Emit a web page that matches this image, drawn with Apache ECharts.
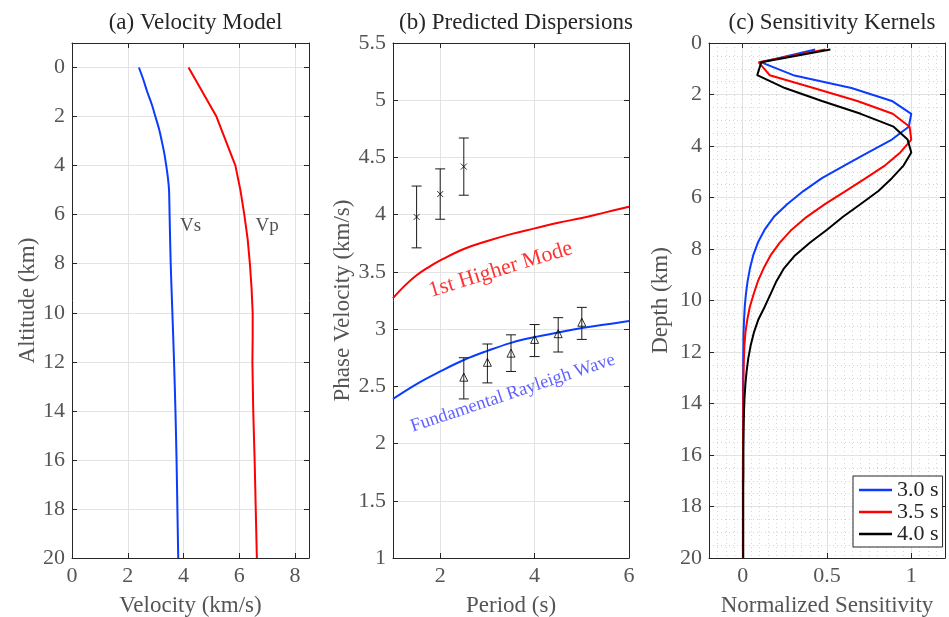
<!DOCTYPE html>
<html><head><meta charset="utf-8">
<script src="https://cdn.jsdelivr.net/npm/echarts@6/dist/echarts.min.js"></script>
<style>html,body{margin:0;padding:0;background:#fff}#c{width:949px;height:617px}</style>
</head><body><div id="c"></div>
<script>
// ---------- Panel (a): velocity model ----------
const vsVel = [2.40, 2.56, 2.70, 2.86, 2.99, 3.12, 3.22, 3.31, 3.38, 3.44, 3.48, 3.50, 3.54, 3.60, 3.66, 3.71, 3.75, 3.78, 3.81];
const vsDep = [0, 0.5, 1, 1.5, 2, 2.5, 3, 3.5, 4, 4.5, 5, 6, 8, 10, 12, 14, 16, 18, 20];
const vpVel = [4.18, 5.18, 5.86, 6.04, 6.18, 6.30, 6.38, 6.44, 6.48, 6.48, 6.47, 6.50, 6.55, 6.59, 6.63];
const vpDep = [0, 2, 4, 5, 6, 7, 8, 9, 10, 11, 12, 14, 16, 18, 20];
const aTicksX = [0, 2, 4, 6, 8];
const aTicksY = [0, 2, 4, 6, 8, 10, 12, 14, 16, 18, 20];

// ---------- Panel (b): predicted dispersions ----------
const hmPeriod = [1, 1.25, 1.5, 1.75, 2, 2.5, 3, 3.5, 4, 4.5, 5, 5.5, 6];
const hmVel = [3.27, 3.38, 3.47, 3.54, 3.60, 3.70, 3.77, 3.83, 3.88, 3.93, 3.97, 4.02, 4.07];
const fmPeriod = [1, 1.5, 2, 2.5, 3, 3.5, 4, 4.5, 5, 5.5, 6];
const fmVel = [2.39, 2.52, 2.63, 2.73, 2.81, 2.88, 2.93, 2.97, 3.01, 3.04, 3.07];
const hmObsPeriod = [1.5, 2, 2.5];
const hmObs = [3.98, 4.18, 4.42];
const hmLow = [3.71, 3.96, 4.17];
const hmHigh = [4.25, 4.40, 4.67];
const fmObsPeriod = [2.5, 3, 3.5, 4, 4.5, 5];
const fmObs = [2.58, 2.71, 2.79, 2.91, 2.96, 3.06];
const fmLow = [2.39, 2.53, 2.63, 2.76, 2.80, 2.91];
const fmHigh = [2.75, 2.87, 2.95, 3.04, 3.10, 3.19];
const bTicksX = [2, 4, 6];

// ---------- Panel (c): sensitivity kernels ----------
const kDepth = [0.25, 0.75, 1.25, 1.75, 2.25, 2.75, 3.25, 3.75, 4.25, 4.75, 5.25, 5.75, 6.25, 6.75, 7.25, 7.75, 8.25, 8.75, 9.25, 9.75,
  10.25, 10.75, 11.25, 11.75, 12.25, 12.75, 13.25, 13.75, 14.25, 14.75, 15.25, 15.75, 16.25, 16.75, 17.25, 17.75, 18.25, 18.75, 19.25, 19.75, 20];
const k30 = [0.43, 0.11, 0.30, 0.645, 0.885, 1.0, 0.985, 0.885, 0.745, 0.605, 0.47, 0.36, 0.265, 0.185, 0.13, 0.09, 0.062, 0.043, 0.029, 0.019,
  0.012, 0.008, 0.005, 0.004, 0.003, 0.003, 0.002, 0.002, 0.002, 0.002, 0.002, 0.002, 0.001, 0.001, 0.001, 0.001, 0.001, 0.001, 0.001, 0.001, 0.001];
const k35 = [0.49, 0.095, 0.16, 0.42, 0.68, 0.89, 0.99, 1.0, 0.935, 0.845, 0.73, 0.61, 0.49, 0.38, 0.29, 0.22, 0.165, 0.124, 0.09, 0.065,
  0.042, 0.027, 0.016, 0.010, 0.007, 0.005, 0.004, 0.003, 0.003, 0.003, 0.002, 0.002, 0.002, 0.002, 0.002, 0.002, 0.002, 0.002, 0.002, 0.002, 0.002];
const k40 = [0.52, 0.11, 0.086, 0.25, 0.47, 0.70, 0.895, 0.978, 1.0, 0.955, 0.885, 0.805, 0.70, 0.595, 0.50, 0.40, 0.31, 0.245, 0.20, 0.165,
  0.13, 0.092, 0.066, 0.047, 0.033, 0.023, 0.016, 0.011, 0.008, 0.006, 0.005, 0.004, 0.004, 0.004, 0.003, 0.003, 0.003, 0.003, 0.003, 0.003, 0.003];
const kNames = ['3.0 s', '3.5 s', '4.0 s'];
const cTicksX = [0, 0.5, 1];

// ---------- styling ----------
const FONT = 'Liberation Serif';
const AX = '#262626', LBL = '#555555', GRID = '#e3e3e3', MINOR = '#d6d6d6';
const BLUE = '#0a3cff', RED = '#ff0000', TXTBLUE = '#3a3aff';
const TICKFS = 22, NAMEFS = 23;
const zip = (a, b) => a.map((v, i) => [v, b[i]]);

function axis(o) {
  const base = {
    type: 'value', gridIndex: o.g, position: o.pos, min: o.min, max: o.max, inverse: !!o.inverse,
    axisLine: { show: true, onZero: false, lineStyle: { color: AX, width: 1 } },
    axisTick: { show: true, inside: true, length: 5, lineStyle: { color: AX, width: 1 } },
    axisLabel: { show: !o.noLabel, color: LBL, fontFamily: FONT, fontSize: TICKFS, margin: o.margin || 7 },
    splitLine: { show: !!o.split, lineStyle: { color: GRID, width: 1 } }
  };
  if (o.interval !== undefined) base.interval = o.interval;
  if (o.custom) { base.axisTick.customValues = o.custom; base.axisLabel.customValues = o.custom; }
  if (o.name) {
    base.name = o.name; base.nameLocation = 'middle'; base.nameGap = o.nameGap;
    base.nameTextStyle = { color: LBL, fontFamily: FONT, fontSize: NAMEFS };
  }
  if (o.minor) {
    base.minorTick = { show: false, splitNumber: o.minor };
    base.minorSplitLine = { show: true, lineStyle: { color: MINOR, width: 1, type: [1, 3] } };
  }
  return base;
}

const xAxis = [
  axis({ g: 0, pos: 'bottom', min: 0, max: 8.5, custom: aTicksX, split: true, name: 'Velocity (km/s)', nameGap: 36 }),
  axis({ g: 0, pos: 'top', min: 0, max: 8.5, custom: aTicksX, noLabel: true }),
  axis({ g: 1, pos: 'bottom', min: 1, max: 6, custom: bTicksX, split: true, name: 'Period (s)', nameGap: 36 }),
  axis({ g: 1, pos: 'top', min: 1, max: 6, custom: bTicksX, noLabel: true }),
  axis({ g: 2, pos: 'bottom', min: -0.2, max: 1.2, custom: cTicksX, split: true, name: 'Normalized Sensitivity', nameGap: 36 }),
  axis({ g: 2, pos: 'top', min: -0.2, max: 1.2, custom: cTicksX, noLabel: true }),
  { type: 'value', gridIndex: 2, position: 'bottom', min: -0.2, max: 1.2, interval: 0.05,
    axisLine: { show: false, onZero: false }, axisTick: { show: false }, axisLabel: { show: false },
    splitLine: { show: true, lineStyle: { color: MINOR, width: 1, type: [1, 3] } }, z: 0 }
];
const yAxis = [
  axis({ g: 0, pos: 'left', min: -1, max: 20, inverse: true, custom: aTicksY, split: true, name: 'Altitude (km)', nameGap: 31 }),
  axis({ g: 0, pos: 'right', min: -1, max: 20, inverse: true, custom: aTicksY, noLabel: true }),
  axis({ g: 1, pos: 'left', min: 1, max: 5.5, interval: 0.5, split: true, name: 'Phase Velocity (km/s)', nameGap: 37 }),
  axis({ g: 1, pos: 'right', min: 1, max: 5.5, interval: 0.5, noLabel: true }),
  axis({ g: 2, pos: 'left', min: 0, max: 20, interval: 2, inverse: true, split: true, minor: 4, name: 'Depth (km)', nameGap: 37 }),
  axis({ g: 2, pos: 'right', min: 0, max: 20, interval: 2, inverse: true, noLabel: true })
];

function errBar(periods, lo, hi) {
  return {
    type: 'custom', xAxisIndex: 2, yAxisIndex: 2, z: 5,
    data: periods.map((p, i) => [p, lo[i], hi[i]]),
    encode: { x: 0, y: [1, 2] },
    renderItem: (params, api) => {
      const x = api.value(0);
      const p1 = api.coord([x, api.value(1)]), p2 = api.coord([x, api.value(2)]);
      const w = 5, st = { stroke: '#1a1a1a', lineWidth: 1 };
      return { type: 'group', children: [
        { type: 'line', shape: { x1: p1[0], y1: p1[1], x2: p2[0], y2: p2[1] }, style: st },
        { type: 'line', shape: { x1: p1[0] - w, y1: p1[1], x2: p1[0] + w, y2: p1[1] }, style: st },
        { type: 'line', shape: { x1: p2[0] - w, y1: p2[1], x2: p2[0] + w, y2: p2[1] }, style: st }
      ] };
    }
  };
}
function textMark(xi, yi, pts) {
  return {
    type: 'scatter', xAxisIndex: xi, yAxisIndex: yi, symbolSize: 0, z: 6, silent: true,
    data: pts.map(p => ({ value: [p.x, p.y], label: { show: true, position: 'inside', formatter: p.t, rotate: p.rot || 0,
      color: p.color, fontFamily: FONT, fontSize: p.size } }))
  };
}
const lineS = (name, xi, yi, data, color, smooth) => ({
  name, type: 'line', xAxisIndex: xi, yAxisIndex: yi, data, symbol: 'none', smooth: smooth || false,
  lineStyle: { color, width: 2 }, itemStyle: { color }, z: 4
});

const series = [
  lineS('Vs', 0, 0, zip(vsVel, vsDep), BLUE, 0.3),
  lineS('Vp', 0, 0, zip(vpVel, vpDep), RED),
  textMark(0, 0, [{ x: 4.25, y: 6.45, t: 'Vs', color: '#262626', size: 19 }, { x: 7.0, y: 6.45, t: 'Vp', color: '#262626', size: 19 }]),

  lineS('1st Higher Mode', 2, 2, zip(hmPeriod, hmVel), RED, 0.4),
  lineS('Fundamental Rayleigh Wave', 2, 2, zip(fmPeriod, fmVel), BLUE, 0.4),
  errBar(hmObsPeriod, hmLow, hmHigh),
  errBar(fmObsPeriod, fmLow, fmHigh),
  { type: 'scatter', xAxisIndex: 2, yAxisIndex: 2, z: 6, symbol: 'path://M0,0L10,10M10,0L0,10', symbolSize: 6,
    itemStyle: { color: 'none', borderColor: '#000', borderWidth: 1 }, data: zip(hmObsPeriod, hmObs) },
  { type: 'scatter', xAxisIndex: 2, yAxisIndex: 2, z: 6, symbol: 'triangle', symbolSize: 8,
    itemStyle: { color: 'rgba(0,0,0,0)', borderColor: '#000', borderWidth: 1 }, data: zip(fmObsPeriod, fmObs) },
  textMark(2, 2, [{ x: 3.28, y: 3.52, t: '1st Higher Mode', color: RED, size: 22, rot: 17 },
                  { x: 3.54, y: 2.44, t: 'Fundamental Rayleigh Wave', color: TXTBLUE, size: 18.5, rot: 18.5 }]),

  lineS(kNames[0], 4, 4, zip(k30, kDepth), BLUE),
  lineS(kNames[1], 4, 4, zip(k35, kDepth), RED),
  lineS(kNames[2], 4, 4, zip(k40, kDepth), '#000000')
];

const titleStyle = { fontFamily: FONT, fontSize: 23, fontWeight: 'normal', color: '#262626' };
const gridBase = { top: 43, height: 515, outerBoundsMode: 'none', containLabel: false };
const option = {
  animation: false,
  backgroundColor: '#ffffff',
  title: [
    { text: '(a) Velocity Model', left: 190.5, top: 6, textAlign: 'center', textStyle: titleStyle },
    { text: '(b) Predicted Dispersions', left: 511, top: 6, textAlign: 'center', textStyle: titleStyle },
    { text: '(c) Sensitivity Kernels', left: 827, top: 6, textAlign: 'center', textStyle: titleStyle }
  ],
  grid: [
    Object.assign({ left: 72, width: 237 }, gridBase),
    Object.assign({ left: 393, width: 236 }, gridBase),
    Object.assign({ left: 709, width: 236 }, gridBase)
  ],
  legend: {
    data: kNames, orient: 'vertical', left: 853, top: 476, icon: 'rect', itemWidth: 33, itemHeight: 2.5, itemGap: 0,
    backgroundColor: '#ffffff', borderColor: '#262626', borderWidth: 1, borderRadius: 0, padding: [3, 4, 2, 6],
    textStyle: { fontFamily: FONT, fontSize: 22, color: '#262626', lineHeight: 22 }, selectedMode: false
  },
  xAxis, yAxis, series
};
const chart = echarts.init(document.getElementById('c'), null, { renderer: 'canvas' });
chart.setOption(option);
</script></body></html>
